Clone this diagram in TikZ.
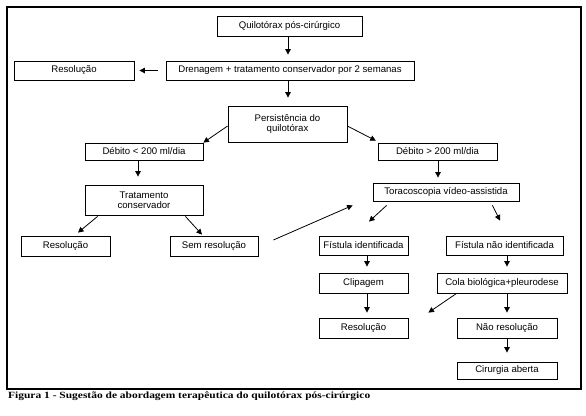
\documentclass[tikz,border=0pt]{standalone}
\usepackage{fontspec}
\setmainfont{Liberation Sans}
\newfontfamily\capfont{Liberation Serif}
\usetikzlibrary{arrows.meta,calc}
\tikzset{
  box/.style={draw, line width=0.8pt, inner sep=0pt, align=center, font=\fontsize{9.6}{10.5}\selectfont},
  arr/.style={line width=0.8pt, -{Triangle[length=5.5pt,width=5.5pt]}},
}
\begin{document}
\begin{tikzpicture}[x=1pt,y=-1pt]
\useasboundingbox (0,0) rectangle (586,415);
\draw[line width=1.1pt] (7,7) rectangle (581,389);
% nodes
\node[box, minimum width=145pt, minimum height=20pt] (q) at (289.5,26) {Quilotórax pós-cirúrgico};
\node[box, minimum width=248pt, minimum height=19pt] (dren) at (290,70.5) {Drenagem + tratamento conservador por 2 semanas};
\node[box, minimum width=120pt, minimum height=19pt] (res0) at (74,70.5) {Resolução};
\node[box, minimum width=119pt, minimum height=36pt] (pers) at (287.5,124) {Persistência do\\quilotórax};
\node[box, minimum width=118pt, minimum height=17pt] (dlt) at (144,151.5) {Débito < 200 ml/dia};
\node[box, minimum width=119pt, minimum height=17pt] (dgt) at (437.5,151.5) {Débito > 200 ml/dia};
\node[box, minimum width=118pt, minimum height=30pt] (trat) at (144,200) {Tratamento\\conservador};
\node[box, minimum width=89pt, minimum height=20pt] (res1) at (65.5,246) {Resolução};
\node[box, minimum width=88pt, minimum height=20pt] (sem) at (214,246) {Sem resolução};
\node[box, minimum width=146pt, minimum height=18pt] (tor) at (446,192) {Toracoscopia vídeo-assistida};
\node[box, minimum width=89pt, minimum height=19pt] (fid) at (363.5,245.5) {Fístula identificada};
\node[box, minimum width=117pt, minimum height=19pt] (fnid) at (504.5,245.5) {Fístula não identificada};
\node[box, minimum width=89pt, minimum height=20pt] (clip) at (363.5,283) {Clipagem};
\node[box, minimum width=130pt, minimum height=20pt] (cola) at (502,283) {Cola biológica+pleurodese};
\node[box, minimum width=89pt, minimum height=20pt] (res2) at (363.5,328) {Resolução};
\node[box, minimum width=100pt, minimum height=20pt] (nres) at (507,328) {Não resolução};
\node[box, minimum width=100pt, minimum height=17pt] (cir) at (507,370.5) {Cirurgia aberta};
% connectors
\draw[arr, shorten <=1pt, shorten >=6pt] ([xshift=-1.5pt]q.south) -- ([xshift=-1.5pt]q.south |- dren.north);
\draw[arr, shorten <=8pt, shorten >=5pt] (dren.west) -- (res0.east);
\draw[arr, shorten >=8pt] ([xshift=-2pt]dren.south) -- ([xshift=-2pt]dren.south |- pers.north);
\draw[arr] ($(pers.west)+(0,2)$) -- ($(dlt.north east)+(0,0)$);
\draw[arr, shorten >=2pt] ($(pers.east)+(0,2)$) -- ($(dgt.north west)+(0,-1)$);
\draw[arr, shorten >=8pt] ([xshift=-6pt]dlt.south) -- ([xshift=-6pt]dlt.south |- trat.north);
\draw[arr] ($(trat.south west)+(13,1)$) -- ($(res1.north)+(12.5,-3)$);
\draw[arr] ($(trat.south east)+(-18,1)$) -- ($(sem.north)+(-12,-1)$);
\draw[arr] ($(sem.east)+(15,-6)$) -- ($(tor.south west)+(-20,4)$);
\draw[arr, shorten >=5pt] ([xshift=0.5pt]dgt.south) -- ([xshift=0.5pt]dgt.south |- tor.north);
\draw[arr] ($(tor.south west)+(14,4)$) -- ($(fid.north)+(5.5,-14)$);
\draw[arr] ($(tor.south east)+(-27,4)$) -- ($(fnid.north)+(-4.5,-15)$);
\draw[arr, shorten >=6pt] ([xshift=3.5pt]fid.south) -- ([xshift=3.5pt]clip.north);
\draw[arr, shorten >=6pt] ([xshift=2.5pt]fnid.south) -- ([xshift=2.5pt]fnid.south |- cola.north);
\draw[arr, shorten >=5pt] ([xshift=3.5pt]clip.south) -- ([xshift=3.5pt]res2.north);
\draw[arr] ($(cola.south west)+(20,0)$) -- ($(res2.north east)+(20,-5)$);
\draw[arr, shorten >=5pt] (cola.south -| nres.north) -- (nres.north);
\draw[arr, shorten >=9pt] (nres.south) -- (cir.north);
% caption
\node[anchor=base west, inner sep=0pt, font=\capfont\bfseries\fontsize{9.5}{11}\selectfont] (cap) at (8,398)
  {\resizebox{362pt}{\height}{Figura 1 - Sugestão de abordagem terapêutica do quilotórax pós-cirúrgico}};
\end{tikzpicture}
\end{document}
